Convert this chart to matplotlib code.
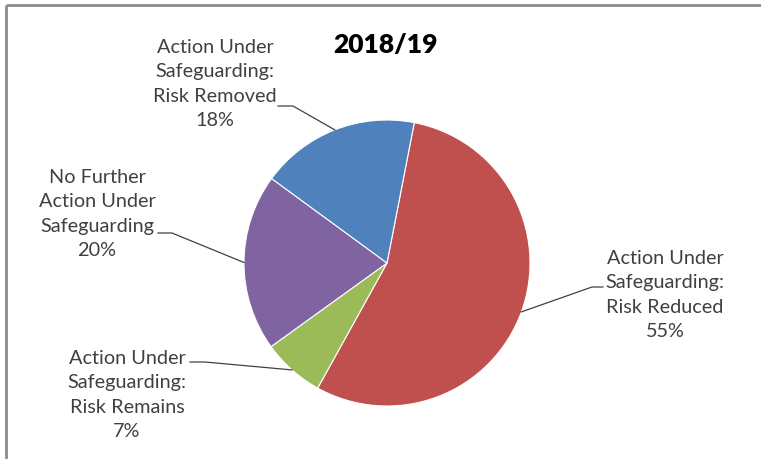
import numpy as np
import matplotlib
matplotlib.use("Agg")
import matplotlib.pyplot as plt

# Slice data, in clockwise drawing order
categories = [
    "Action Under\nSafeguarding:\nRisk Reduced",
    "Action Under\nSafeguarding:\nRisk Remains",
    "No Further\nAction Under\nSafeguarding",
    "Action Under\nSafeguarding:\nRisk Removed",
]
shares = [55, 7, 20, 18]
colors = ["#C0504D", "#9BBB59", "#8064A2", "#4F81BD"]
title = "2018/19"

W, H = 761, 459
fig = plt.figure(figsize=(W / 100, H / 100), dpi=100)
ax = fig.add_axes([0, 0, 1, 1])

plt.rcParams["font.family"] = ["Lato", "DejaVu Sans"]

# frame lines along top and left
ax.plot([6, W], [H - 5, H - 5], color="#8c8c8c", lw=2, solid_capstyle="butt")
ax.plot([6, 6], [H - 5, 0], color="#8c8c8c", lw=2, solid_capstyle="butt")

cx, cy, r = 387, H - 263, 143
wedges, _ = ax.pie(shares, colors=colors, startangle=79, counterclock=False,
                   center=(cx, cy), radius=r, frame=True,
                   wedgeprops=dict(edgecolor="white", linewidth=0.8))
ax.set_xlim(0, W)
ax.set_ylim(0, H)
ax.set_aspect("equal")
ax.axis("off")

ax.text(386, H - 45, title, ha="center", va="center", fontsize=19,
        fontweight="heavy", color="black")

# label placement: text centre, line start next to text, elbow point
layout = [
    ((665, 295), (603, 287), (592, 287)),
    ((127, 395), (190, 362), (205, 362)),
    ((97, 214), (158, 233), (172, 233)),
    ((215, 84), (278, 106), (293, 106)),
]

for w, cat, val, (tpos, p0, p1) in zip(wedges, categories, shares, layout):
    mid = np.deg2rad((w.theta1 + w.theta2) / 2)
    ex, ey = cx + r * np.cos(mid), cy + r * np.sin(mid)
    ax.text(tpos[0], H - tpos[1], f"{cat}\n{val}%", ha="center", va="center",
            fontsize=14.3, color="#404040", linespacing=1.52)
    ax.plot([p0[0], p1[0], ex], [H - p0[1], H - p1[1], ey],
            color="#404040", lw=0.9)

fig.savefig("out.png", dpi=100)
